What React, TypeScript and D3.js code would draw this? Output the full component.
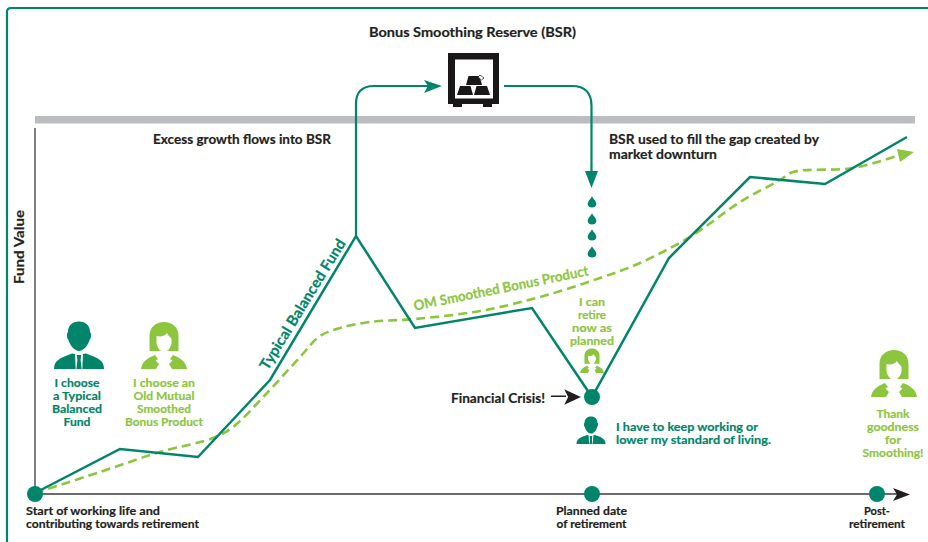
import React from "react";
import * as d3 from "d3";

// Schematic fund value over a working life: [time, value] in chart units.
const balancedFund: [number, number][] = [
  [0, 0], [85, 44], [163, 36], [235, 113], [321, 257], [380, 165], [497, 185],
  [557, 96], [634, 235], [715, 316], [790, 309], [872, 356],
];
const smoothedProduct: [number, number][] = [
  [0, 0], [65, 21], [125, 41], [178, 55], [198, 66], [232, 100], [265, 136],
  [285, 157], [305, 165], [335, 171], [380, 174], [445, 182], [505, 196], [565, 215],
  [605, 230], [658, 258], [705, 291], [745, 313], [758, 321], [818, 325], [865, 338],
];
const dashedArrowTip: [number, number] = [879, 341];
const milestones = [0, 557, 842];
const dropValues = [291, 274, 258, 241];

const TEAL = "#00856a";
const LIME = "#8cc63f";
const INK = "#231f20";
const FONT = "Lato, 'Noto Sans', sans-serif";

const x = d3.scaleLinear().domain([0, 875]).range([35, 910]);
const y = d3.scaleLinear().domain([0, 365]).range([493, 128]);
const straightTrace = d3.line<[number, number]>().x((d) => x(d[0])).y((d) => y(d[1]));
const smoothTrace = d3.line<[number, number]>().x((d) => x(d[0])).y((d) => y(d[1])).curve(d3.curveCatmullRom.alpha(0.5));

type LabelProps = {
  lines: string[]; px: number; py: number; anchor?: string; color?: string;
  size?: number; lead?: number; widths?: number[];
};

function Label({ lines, px, py, anchor = "middle", color = INK, size = 12, lead = 13, widths }: LabelProps) {
  return (
    <text x={px} y={py} textAnchor={anchor} fill={color} stroke={color} strokeWidth={0.2} fontFamily={FONT} fontWeight={700} fontSize={size}>
      {lines.map((s, i) => (
        <tspan key={s} x={px} y={py + i * lead} textLength={widths?.[i]} lengthAdjust="spacingAndGlyphs">{s}</tspan>
      ))}
    </text>
  );
}

function Man({ cx, base, k }: { cx: number; base: number; k: number }) {
  return (
    <g transform={`translate(${cx},${base}) scale(${k})`} fill={TEAL}>
      <path d="M0,-47.5 C7,-47.5 11,-43 11,-37 C12.5,-36 12.5,-31 10.8,-29.5 C9,-23 4,-18 0,-18 C-4,-18 -9,-23 -10.8,-29.5 C-12.5,-31 -12.5,-36 -11,-37 C-11,-43 -7,-47.5 0,-47.5 Z" />
      <path d="M-25,0 C-25,-8 -20,-11 -7,-15.5 L-4,-15 L-3.3,0 Z" />
      <path d="M25,0 C25,-8 20,-11 7,-15.5 L4,-15 L3.3,0 Z" />
      <path d="M-2.2,-14 L2.2,-14 L1.6,-9 L2.6,0 L-2.6,0 L-1.6,-9 Z" />
    </g>
  );
}

function Woman({ cx, base, k }: { cx: number; base: number; k: number }) {
  return (
    <g transform={`translate(${cx},${base}) scale(${k})`} fill={LIME}>
      <path d="M-14.5,-18 L-14.5,-33 C-14.5,-42 -8,-47 0,-47 C8,-47 14.5,-42 14.5,-33 L14.5,-18 Z" />
      <path d="M-7.5,-33 C-3,-32 1,-33 3,-36 C4,-33 7,-32 7.5,-30 L7.5,-26 C7,-21 3,-17 0,-17 L3,-14 L-3,-14 L0,-17 C-3,-17 -7,-21 -7.5,-26 Z" fill="#fff" />
      <rect x={-4} y={-18} width={8} height={6} fill="#fff" />
      <path d="M-23,0 C-22,-7 -17,-11 -9,-14 L-6,-10 L-8.5,-8.5 L-5,-5 L-8,0 Z" />
      <path d="M23,0 C22,-7 17,-11 9,-14 L6,-10 L8.5,-8.5 L5,-5 L8,0 Z" />
    </g>
  );
}

function Vault() {
  return (
    <g fill="#1a1718">
      <path fillRule="evenodd" d="M448,53 H499 V104 H448 Z M455,59.5 V98.5 H493 V59.5 Z" />
      <rect x={453} y={104} width={9} height={3} />
      <rect x={483} y={104} width={9} height={3} />
      <path d="M457,95 L473,95 L470.5,86 L460,86 Z" />
      <path d="M474,95 L490,95 L487,86 L476.5,86 Z" />
      <path d="M466,85 L482,85 L479.5,76 L468.5,76 Z" />
      <path d="M480,75 L484,78 L481.5,80 L478,77 Z" fill="#fff" stroke="#1a1718" strokeWidth={0.7} />
    </g>
  );
}

function Drop({ cy }: { cy: number }) {
  return <path transform={`translate(592,${cy})`} d="M0,-6 C0.5,-3.5 4.3,-1.5 4.3,2 C4.3,4.5 2.2,5.5 0,5.5 C-2.2,5.5 -4.3,4.5 -4.3,2 C-4.3,-1.5 -0.5,-3.5 0,-6 Z" fill={TEAL} />;
}

export default function App() {
  const peak = balancedFund[4];
  const px = x(peak[0]);
  const py = y(peak[1]);
  const last = smoothedProduct[smoothedProduct.length - 1];
  const tip = [x(dashedArrowTip[0]), y(dashedArrowTip[1])];
  const crisis = balancedFund[7];
  return (
    <svg width={928} height={542} style={{ position: "absolute", left: 0, top: 0, background: "#fff" }}>
      {/* outer frame, open on the right and at the bottom */}
      <path d="M7,542 V12 Q7,8 11,8 H928" fill="none" stroke={TEAL} strokeWidth={2.2} />

      <rect x={35} y={116} width={880} height={7.5} fill="#bcbdc0" />

      {/* reserve flow arrows */}
      <path d={`M${px},${py} V104 Q${px},86 ${px + 18},86 H428`} fill="none" stroke={TEAL} strokeWidth={2.2} />
      <path d="M424,80 L442,86 L424,93 L428,86 Z" fill={TEAL} />
      <path d="M504,86 H572 Q591.5,86 591.5,106 V176" fill="none" stroke={TEAL} strokeWidth={2.2} />
      <path d="M585,171 L598,171 L591.5,188 Z" fill={TEAL} />
      {dropValues.map((v) => <Drop key={v} cy={y(v)} />)}
      <Vault />

      {/* axes */}
      <line x1={x(0)} x2={x(0)} y1={y(365)} y2={y(0)} stroke="#3a3a3c" strokeWidth={1.3} />
      <line x1={x(0)} x2={x(862)} y1={y(0) + 1} y2={y(0) + 1} stroke="#3a3a3c" strokeWidth={1.3} />
      <path d="M893,488 L910,494.5 L893,501 L897,494.5 Z" fill={INK} />

      {/* fund traces */}
      <path d={smoothTrace(smoothedProduct)!} fill="none" stroke={LIME} strokeWidth={2.6} strokeDasharray="9 5" />
      <path d={`M${x(last[0]) - 3},${y(last[1]) - 6} L${tip[0]},${tip[1]} L${x(last[0])},${y(last[1]) + 7} Z`} fill={LIME} />
      <path d={straightTrace(balancedFund)!} fill="none" stroke={TEAL} strokeWidth={2.5} strokeLinejoin="miter" />

      {/* milestones */}
      {milestones.map((m) => <circle key={m} cx={x(m)} cy={y(0) + 1} r={8} fill={TEAL} />)}
      <circle cx={x(crisis[0])} cy={y(crisis[1])} r={8} fill={TEAL} />
      <path d="M551,396.3 H566 M566,391 L579,397 L566,403 L569,397 Z" stroke={INK} strokeWidth={1.6} fill={INK} />

      {/* people */}
      <Man cx={79} base={369} k={1} />
      <Woman cx={164} base={369} k={1} />
      <Woman cx={592} base={373} k={0.52} />
      <Man cx={591} base={444} k={0.58} />
      <Woman cx={894} base={397} k={1} />

      {/* annotations */}
      <Label lines={["Bonus Smoothing Reserve (BSR)"]} px={472.5} py={37} size={14} widths={[207]} />
      <Label lines={["Excess growth flows into BSR"]} px={153} py={144} anchor="start" size={14} widths={[178]} />
      <Label lines={["BSR used to fill the gap created by", "market downturn"]} px={609} py={144} anchor="start" size={14} lead={15} widths={[210, 108]} />
      <g transform="translate(24,247) rotate(-90)"><Label lines={["Fund Value"]} px={0} py={0} size={14} widths={[74]} /></g>
      <g transform="translate(307,307) rotate(-58.5)"><Label lines={["Typical Balanced Fund"]} px={0} py={0} color={TEAL} size={15} widths={[150]} /></g>
      <g transform="translate(502,293) rotate(-11.5)"><Label lines={["OM Smoothed Bonus Product"]} px={0} py={0} color={LIME} size={14} widths={[178]} /></g>
      <Label lines={["I choose", "a Typical", "Balanced", "Fund"]} px={77} py={387} color={TEAL} widths={[45, 48, 50, 27]} />
      <Label lines={["I choose an", "Old Mutual", "Smoothed", "Bonus Product"]} px={164} py={387} color={LIME} widths={[62, 61, 54, 78]} />
      <Label lines={["I can", "retire", "now as", "planned"]} px={592} py={306} color={LIME} widths={[26, 28, 40, 44]} />
      <Label lines={["Financial Crisis!"]} px={451} py={403} anchor="start" size={14} widths={[94]} />
      <Label lines={["I have to keep working or", "lower my standard of living."]} px={616} py={431} anchor="start" color={TEAL} widths={[142, 155]} />
      <Label lines={["Thank", "goodness", "for", "Smoothing!"]} px={893} py={418} color={LIME} widths={[33, 52, 16, 61]} />
      <Label lines={["Start of working life and", "contributing towards retirement"]} px={26} py={515} anchor="start" widths={[134, 173]} />
      <Label lines={["Planned date", "of retirement"]} px={591.5} py={515} widths={[71, 70]} />
      <Label lines={["Post-", "retirement"]} px={877} py={515} widths={[26, 56]} />
    </svg>
  );
}
